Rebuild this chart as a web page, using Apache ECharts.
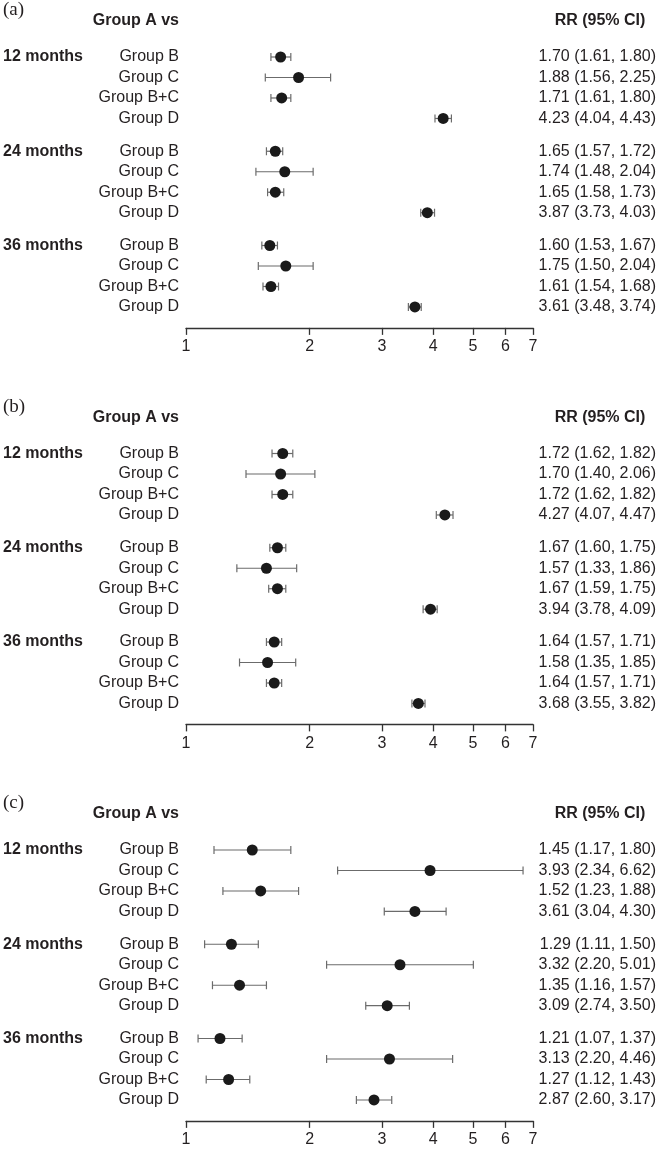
<!DOCTYPE html>
<html lang="en">
<head>
	<meta charset="UTF-8">
	<title>forest plot</title>
	<style>
		html, body{
			margin: 0;
			padding: 0;
			background: #fff;
		}
		#main{
			width: 662px;
			height: 1149px;
		}
	</style>
	<script src="https://cdn.jsdelivr.net/npm/echarts@6/dist/echarts.min.js"></script>
</head>
<body>
	<div id="main"></div>

	<script>
		// 数据
		var panelNames = ['(a)', '(b)', '(c)'];
		var periods = ['12 months', '24 months', '36 months'];
		var groups = ['Group B', 'Group C', 'Group B+C', 'Group D'];
		var xTicks = [1, 2, 3, 4, 5, 6, 7];

		var rrA = [1.70, 1.88, 1.71, 4.23, 1.65, 1.74, 1.65, 3.87, 1.60, 1.75, 1.61, 3.61];
		var loA = [1.61, 1.56, 1.61, 4.04, 1.57, 1.48, 1.58, 3.73, 1.53, 1.50, 1.54, 3.48];
		var hiA = [1.80, 2.25, 1.80, 4.43, 1.72, 2.04, 1.73, 4.03, 1.67, 2.04, 1.68, 3.74];

		var rrB = [1.72, 1.70, 1.72, 4.27, 1.67, 1.57, 1.67, 3.94, 1.64, 1.58, 1.64, 3.68];
		var loB = [1.62, 1.40, 1.62, 4.07, 1.60, 1.33, 1.59, 3.78, 1.57, 1.35, 1.57, 3.55];
		var hiB = [1.82, 2.06, 1.82, 4.47, 1.75, 1.86, 1.75, 4.09, 1.71, 1.85, 1.71, 3.82];

		var rrC = [1.45, 3.93, 1.52, 3.61, 1.29, 3.32, 1.35, 3.09, 1.21, 3.13, 1.27, 2.87];
		var loC = [1.17, 2.34, 1.23, 3.04, 1.11, 2.20, 1.16, 2.74, 1.07, 2.20, 1.12, 2.60];
		var hiC = [1.80, 6.62, 1.88, 4.30, 1.50, 5.01, 1.57, 3.50, 1.37, 4.46, 1.43, 3.17];

		var panels = [[rrA, loA, hiA], [rrB, loB, hiB], [rrC, loC, hiC]];

		// 布局
		var FONT = '"Liberation Sans", Arial, sans-serif';
		var TXT = '#231f20';
		var rowH = 20.49;
		var panelStep = 396.5;
		var firstRow = 57;
		var plotLeft = 186, plotW = 347;
		var yMax = 13.22;

		function fmt(v){ return v.toFixed(2); }

		var myChart = echarts.init(document.getElementById('main'), null, {renderer: 'canvas'});

		var grids = [], xAxes = [], yAxes = [], series = [], graphics = [];

		panels.forEach(function(p, k){
			var y0 = firstRow + k * panelStep;
			grids.push({
				left: plotLeft, width: plotW,
				top: y0 - rowH, height: rowH * (yMax + 1)
			});
			xAxes.push({
				gridIndex: k, type: 'log', logBase: 10, min: 1, max: 7,
				position: 'bottom',
				axisLine: {show: true, onZero: false, lineStyle: {color: '#333', width: 1.3}},
				axisTick: {show: true, length: 7, customValues: xTicks, lineStyle: {color: '#333', width: 1.3}},
				axisLabel: {customValues: xTicks, fontSize: 16, color: TXT, fontFamily: FONT, margin: 11,
					formatter: function(v){ return Math.round(v) + ''; }},
				splitLine: {show: false},
				minorTick: {show: false}
			});
			yAxes.push({
				gridIndex: k, type: 'value', inverse: true, min: -1, max: yMax, show: false
			});

			var rows = [], pts = [];
			for (var i = 0; i < p[0].length; i++) {
				var g = Math.floor(i / 4);
				var pos = g * 4.6 + (i % 4);
				rows.push([i, pos, p[1][i], p[2][i], p[0][i]]);
				pts.push([p[0][i], pos]);
			}

			// 误差线 + 文字
			series.push({
				type: 'custom',
				xAxisIndex: k, yAxisIndex: k,
				data: rows,
				encode: {x: [2, 3], y: 1},
				renderItem: function(params, api){
					var i = api.value(0);
					var pos = api.value(1);
					var lo = api.coord([api.value(2), pos]);
					var hi = api.coord([api.value(3), pos]);
					var y = lo[1];
					var ls = {stroke: '#6b6b6b', lineWidth: 1.2};
					var kids = [
						{type: 'line', shape: {x1: lo[0], y1: y, x2: hi[0], y2: y}, style: ls},
						{type: 'line', shape: {x1: lo[0], y1: y - 4, x2: lo[0], y2: y + 4}, style: ls},
						{type: 'line', shape: {x1: hi[0], y1: y - 4, x2: hi[0], y2: y + 4}, style: ls},
						{type: 'text', x: 179, y: y, style: {
							text: groups[i % 4], font: '16px ' + FONT, fill: TXT,
							align: 'right', verticalAlign: 'middle'}},
						{type: 'text', x: 656, y: y, style: {
							text: fmt(api.value(4)) + ' (' + fmt(api.value(2)) + ', ' + fmt(api.value(3)) + ')',
							font: '16px ' + FONT, fill: TXT, align: 'right', verticalAlign: 'middle'}}
					];
					if (i % 4 === 0) {
						kids.push({type: 'text', x: 3, y: y, style: {
							text: periods[Math.floor(i / 4)], font: 'bold 16px ' + FONT, fill: TXT,
							align: 'left', verticalAlign: 'middle'}});
					}
					return {type: 'group', children: kids};
				},
				z: 2
			});

			// RR 点
			series.push({
				type: 'scatter',
				xAxisIndex: k, yAxisIndex: k,
				data: pts,
				symbol: 'circle', symbolSize: 11,
				itemStyle: {color: '#1a1a1a', opacity: 1},
				emphasis: {disabled: true},
				z: 3
			});

			// 标题
			graphics.push({type: 'text', left: 3, top: y0 - 56, style: {
				text: panelNames[k], font: '19px "Liberation Serif", "Times New Roman", serif', fill: TXT}});
			graphics.push({type: 'text', x: 179, y: y0 - 36, style: {
				text: 'Group A vs', font: 'bold 16px ' + FONT, fill: TXT, align: 'right', verticalAlign: 'middle'}});
			graphics.push({type: 'text', x: 600, y: y0 - 36, style: {
				text: 'RR (95% CI)', font: 'bold 16px ' + FONT, fill: TXT, align: 'center', verticalAlign: 'middle'}});
		});

		var option = {
			backgroundColor: '#fff',
			animation: false,
			grid: grids,
			xAxis: xAxes,
			yAxis: yAxes,
			series: series,
			graphic: graphics
		};

		myChart.setOption(option);
	</script>
</body>
</html>
